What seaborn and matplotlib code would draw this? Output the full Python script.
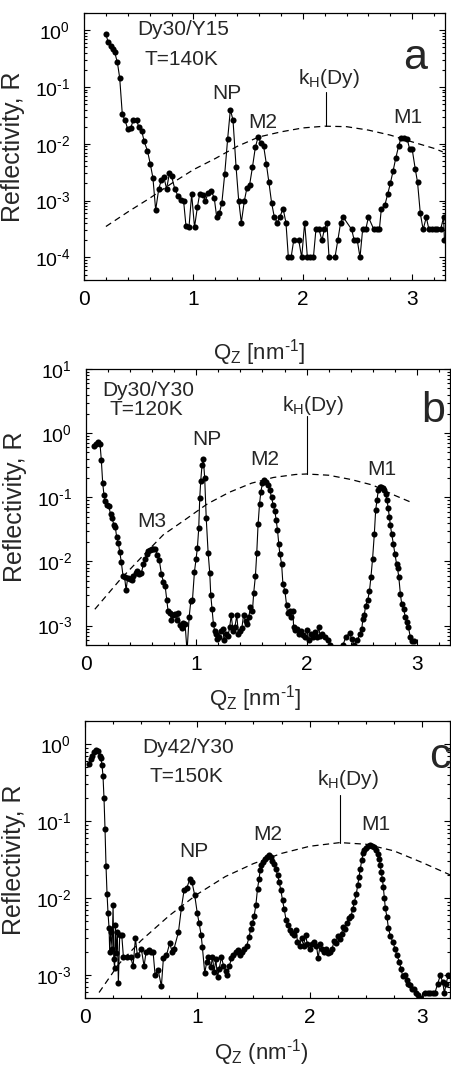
import numpy as np
import pandas as pd
import matplotlib
matplotlib.use("Agg")
import matplotlib.pyplot as plt
from matplotlib.ticker import MultipleLocator, LogLocator, NullFormatter, FuncFormatter
import seaborn as sns

# ---------------- data: panel a (Dy30/Y15, 140 K) ----------------
qa = [0.200, 0.220, 0.244, 0.262, 0.280, 0.305, 0.326, 0.350, 0.375, 0.400,
      0.427, 0.450, 0.480, 0.500, 0.527, 0.550, 0.580, 0.606, 0.630, 0.655,
      0.683, 0.707, 0.730, 0.755, 0.780, 0.800, 0.830, 0.860, 0.884, 0.910,
      0.932, 0.960, 0.984, 1.010, 1.036, 1.057, 1.085, 1.110, 1.136, 1.160,
      1.190, 1.213, 1.237, 1.260, 1.286, 1.313, 1.338, 1.362, 1.390, 1.414,
      1.438, 1.466, 1.490, 1.514, 1.540, 1.566, 1.590, 1.618, 1.642, 1.667,
      1.690, 1.715, 1.740, 1.767, 1.789, 1.820, 1.846, 1.868, 1.893, 1.917,
      1.963, 1.990, 2.017, 2.042, 2.066, 2.097, 2.120, 2.148, 2.175, 2.197,
      2.220, 2.240, 2.294, 2.320, 2.346, 2.370, 2.447, 2.470, 2.498, 2.523,
      2.547, 2.575, 2.600, 2.650, 2.675, 2.700, 2.718, 2.750, 2.776, 2.800,
      2.825, 2.850, 2.876, 2.897, 2.925, 2.955, 2.977, 3.000, 3.028, 3.049,
      3.074, 3.100, 3.129, 3.153, 3.180, 3.205, 3.230, 3.260, 3.287, 3.295]
ra = [0.85, 0.62, 0.52, 0.47, 0.41, 0.27, 0.145, 0.033, 0.026, 0.018,
      0.019, 0.026, 0.026, 0.020, 0.017, 0.011, 0.0075, 0.0044, 0.0025, 0.00068,
      0.0016, 0.0023, 0.0026, 0.0016, 0.0030, 0.0027, 0.0016, 0.0012, 0.00102, 0.0010,
      0.00036, 0.00035, 0.0013, 0.00034, 0.00076, 0.0013, 0.00125, 0.0010, 0.00137, 0.0015,
      0.00113, 0.00051, 0.0006, 0.00091, 0.0029, 0.0122, 0.040, 0.026, 0.0039, 0.0010,
      0.00041, 0.0010, 0.0017, 0.0019, 0.0039, 0.0086, 0.0129, 0.0105, 0.0091, 0.0044,
      0.0021, 0.00091, 0.00051, 0.00041, 0.00051, 0.00072, 0.00041, 0.0001, 0.0001, 0.0002,
      0.0002, 0.0001, 0.00041, 0.0001, 0.0001, 0.0001, 0.00031, 0.00031, 0.0002, 0.00031,
      0.00041, 0.0001, 0.0001, 0.0002, 0.00041, 0.00051, 0.00031, 0.0002, 0.0002, 0.0001,
      0.00031, 0.00031, 0.00051, 0.00031, 0.00031, 0.00031, 0.00072, 0.00083, 0.0013, 0.0020,
      0.0033, 0.0056, 0.0091, 0.0124, 0.0124, 0.0120, 0.0080, 0.0080, 0.0036, 0.0021,
      0.0006, 0.00031, 0.00051, 0.00031, 0.00031, 0.00031, 0.00031, 0.00031, 0.00051, 0.0002]
qka = [0.2, 0.4, 0.6, 0.8, 1.0, 1.2, 1.4, 1.6, 1.8, 2.0, 2.2, 2.4, 2.6, 2.8, 3.0, 3.2, 3.28]
rka = [3.5e-4, 6.3e-4, 1.1e-3, 2.0e-3, 3.5e-3, 5.5e-3, 9.0e-3, 1.32e-2, 1.62e-2,
       1.9e-2, 2.04e-2, 2.0e-2, 1.74e-2, 1.42e-2, 1.08e-2, 8.3e-3, 7.2e-3]

# ---------------- data: panel b (Dy30/Y30, 120 K) ----------------
qb = [0.073, 0.090, 0.109, 0.127, 0.139, 0.151, 0.163, 0.175, 0.194, 0.205,
      0.224, 0.236, 0.254, 0.266, 0.278, 0.293, 0.306, 0.320, 0.336, 0.350,
      0.363, 0.378, 0.396, 0.414, 0.430, 0.450, 0.466, 0.484, 0.502, 0.520,
      0.538, 0.550, 0.566, 0.580, 0.596, 0.610, 0.630, 0.647, 0.665, 0.684,
      0.702, 0.717, 0.732, 0.744, 0.760, 0.774, 0.790, 0.805, 0.823, 0.835,
      0.853, 0.868, 0.883, 0.898, 0.916, 0.935, 0.950, 0.965, 0.983, 0.998,
      1.010, 1.022, 1.031, 1.040, 1.052, 1.064, 1.076, 1.090, 1.107, 1.122,
      1.131, 1.143, 1.155, 1.167, 1.180, 1.192, 1.207, 1.222, 1.240, 1.252,
      1.270, 1.288, 1.303, 1.316, 1.334, 1.349, 1.367, 1.382, 1.397, 1.413,
      1.428, 1.446, 1.461, 1.476, 1.491, 1.509, 1.520, 1.536, 1.548, 1.560,
      1.573, 1.585, 1.600, 1.615, 1.633, 1.651, 1.666, 1.682, 1.697, 1.712,
      1.724, 1.736, 1.748, 1.757, 1.773, 1.785, 1.803, 1.818, 1.827, 1.845,
      1.857, 1.876, 1.882, 1.894, 1.912, 1.930, 1.948, 1.966, 1.984, 2.002,
      2.020, 2.039, 2.057, 2.075, 2.093, 2.108, 2.124, 2.142, 2.163, 2.190,
      2.214, 2.240, 2.270, 2.300, 2.330, 2.356, 2.390, 2.408, 2.430, 2.460,
      2.481, 2.500, 2.510, 2.522, 2.535, 2.554, 2.570, 2.583, 2.598, 2.614,
      2.626, 2.638, 2.650, 2.662, 2.674, 2.689, 2.704, 2.716, 2.729, 2.740,
      2.750, 2.759, 2.771, 2.786, 2.800, 2.815, 2.824, 2.836, 2.850, 2.862,
      2.880, 2.895, 2.910, 2.922, 2.940, 2.958, 2.970]
rb = [0.62, 0.68, 0.73, 0.68, 0.38, 0.17, 0.108, 0.087, 0.076, 0.073,
      0.054, 0.047, 0.037, 0.034, 0.024, 0.0196, 0.014, 0.0098, 0.0059, 0.0057,
      0.0036, 0.0056, 0.0054, 0.0051, 0.0059, 0.0066, 0.0071, 0.0063, 0.0066, 0.0091,
      0.011, 0.0132, 0.0146, 0.0153, 0.0159, 0.0159, 0.0159, 0.0125, 0.0104, 0.0063,
      0.0048, 0.0042, 0.0025, 0.0017, 0.00156, 0.00124, 0.00149, 0.00152, 0.00123, 0.0016,
      0.00104, 0.00091, 0.0011, 0.00107, 0.0004, 0.00135, 0.0024, 0.0025, 0.0069, 0.011,
      0.0165, 0.033, 0.096, 0.18, 0.32, 0.39, 0.20, 0.047, 0.0138, 0.0066,
      0.0030, 0.0018, 0.00107, 0.00082, 0.00074, 0.00062, 0.00067, 0.00083, 0.00089, 0.00059,
      0.00074, 0.00070, 0.00096, 0.00144, 0.00083, 0.00094, 0.00144, 0.00074, 0.00083, 0.00092,
      0.00144, 0.0012, 0.00107, 0.00138, 0.00195, 0.0017, 0.0032, 0.006, 0.0136, 0.038,
      0.078, 0.122, 0.165, 0.186, 0.175, 0.155, 0.13, 0.10, 0.076, 0.062,
      0.044, 0.031, 0.0185, 0.0132, 0.0093, 0.0045, 0.0035, 0.0021, 0.00156, 0.00167,
      0.00135, 0.00172, 0.00096, 0.00085, 0.00089, 0.00074, 0.00082, 0.00071, 0.00066, 0.00085,
      0.00059, 0.00074, 0.00067, 0.00079, 0.00066, 0.00094, 0.0007, 0.00074, 0.00066, 0.00059,
      0.0005, 0.0004, 0.00045, 0.0004, 0.0005, 0.00067, 0.00077, 0.00062, 0.0005, 0.00059,
      0.00074, 0.00089, 0.00126, 0.00144, 0.00205, 0.0025, 0.0035, 0.0057, 0.011, 0.027,
      0.063, 0.091, 0.13, 0.147, 0.147, 0.141, 0.13, 0.112, 0.091, 0.067,
      0.05, 0.037, 0.027, 0.019, 0.0132, 0.0093, 0.0078, 0.0057, 0.0031, 0.0022,
      0.0018, 0.00135, 0.00113, 0.00096, 0.00067, 0.00057, 0.00058]
qkb = [0.08, 0.3, 0.5, 0.7, 0.9, 1.1, 1.3, 1.5, 1.7, 1.9, 2.0, 2.2, 2.4, 2.6, 2.8, 2.96]
rkb = [1.8e-3, 5.0e-3, 0.0115, 0.026, 0.045, 0.079, 0.12, 0.166, 0.204, 0.227,
       0.231, 0.221, 0.19, 0.155, 0.107, 0.082]

# ---------------- data: panel c (Dy42/Y30, 150 K) ----------------
qc = [0.036, 0.050, 0.065, 0.080, 0.098, 0.116, 0.130, 0.140, 0.151, 0.160,
      0.169, 0.178, 0.187, 0.196, 0.205, 0.214, 0.220, 0.229, 0.241, 0.250,
      0.256, 0.264, 0.270, 0.279, 0.288, 0.297, 0.309, 0.327, 0.342, 0.377,
      0.407, 0.428, 0.449, 0.466, 0.502, 0.526, 0.544, 0.567, 0.585, 0.606,
      0.624, 0.651, 0.680, 0.698, 0.725, 0.755, 0.775, 0.793, 0.832, 0.858,
      0.882, 0.906, 0.933, 0.953, 0.977, 1.000, 1.016, 1.034, 1.045, 1.066,
      1.084, 1.099, 1.120, 1.135, 1.150, 1.165, 1.180, 1.194, 1.215, 1.233,
      1.254, 1.268, 1.286, 1.304, 1.322, 1.343, 1.363, 1.381, 1.402, 1.417,
      1.440, 1.461, 1.476, 1.491, 1.506, 1.521, 1.536, 1.550, 1.560, 1.571,
      1.586, 1.601, 1.619, 1.637, 1.655, 1.667, 1.684, 1.699, 1.714, 1.729,
      1.744, 1.759, 1.774, 1.791, 1.809, 1.827, 1.845, 1.863, 1.880, 1.892,
      1.910, 1.928, 1.946, 1.964, 1.980, 1.999, 2.017, 2.040, 2.061, 2.076,
      2.094, 2.112, 2.130, 2.148, 2.166, 2.184, 2.201, 2.219, 2.237, 2.249,
      2.267, 2.285, 2.297, 2.315, 2.332, 2.350, 2.370, 2.383, 2.398, 2.416,
      2.428, 2.440, 2.452, 2.464, 2.476, 2.488, 2.505, 2.523, 2.541, 2.559,
      2.576, 2.591, 2.606, 2.618, 2.630, 2.636, 2.648, 2.656, 2.665, 2.674,
      2.689, 2.701, 2.719, 2.740, 2.760, 2.777, 2.798, 2.813, 2.828, 2.849,
      2.864, 2.878, 2.896, 2.914, 2.932, 2.950, 2.967, 2.985, 3.000, 3.027,
      3.050, 3.075, 3.095, 3.116, 3.140, 3.164, 3.185, 3.200, 3.214, 3.235]
rc = [0.55, 0.64, 0.71, 0.79, 0.84, 0.82, 0.71, 0.66, 0.54, 0.39,
      0.20, 0.08, 0.026, 0.0114, 0.0063, 0.0041, 0.0020, 0.0036, 0.0022, 0.0080,
      0.0016, 0.00122, 0.0044, 0.0019, 0.0036, 0.00079, 0.0033, 0.0033, 0.0017, 0.0017,
      0.0017, 0.0013, 0.0030, 0.0018, 0.00214, 0.0013, 0.0020, 0.0021, 0.0020, 0.0020,
      0.0010, 0.00117, 0.00071, 0.00165, 0.0018, 0.0026, 0.0020, 0.0022, 0.0036, 0.0074,
      0.0126, 0.0135, 0.0175, 0.016, 0.0108, 0.0063, 0.0047, 0.0033, 0.0023, 0.00106,
      0.00147, 0.0017, 0.00125, 0.0017, 0.0011, 0.0016, 0.00093, 0.0012, 0.0017, 0.00132,
      0.00114, 0.0010, 0.00132, 0.00165, 0.0018, 0.0020, 0.0021, 0.0018, 0.0020, 0.00214,
      0.0024, 0.0031, 0.0040, 0.0047, 0.0059, 0.0080, 0.0132, 0.0178, 0.023, 0.027,
      0.0295, 0.0318, 0.034, 0.036, 0.034, 0.030, 0.028, 0.024, 0.020, 0.016,
      0.0126, 0.0093, 0.0071, 0.0051, 0.0045, 0.0038, 0.0035, 0.0033, 0.0038, 0.0027,
      0.0024, 0.0030, 0.0024, 0.0033, 0.0025, 0.0022, 0.0025, 0.0027, 0.0024, 0.00165,
      0.0025, 0.0022, 0.0020, 0.0022, 0.0019, 0.0020, 0.0022, 0.0028, 0.0026, 0.0032,
      0.0029, 0.0034, 0.0042, 0.0040, 0.0047, 0.0055, 0.0059, 0.0071, 0.0089, 0.0114,
      0.0147, 0.0187, 0.024, 0.031, 0.038, 0.042, 0.045, 0.048, 0.049, 0.048,
      0.046, 0.042, 0.037, 0.032, 0.027, 0.022, 0.0178, 0.0139, 0.010, 0.0074,
      0.0056, 0.0041, 0.0032, 0.0027, 0.0022, 0.0018, 0.00149, 0.0012, 0.00098, 0.0010,
      0.00085, 0.00076, 0.00074, 0.00065, 0.00066, 0.00059, 0.00055, 0.0005, 0.00045, 0.00059,
      0.00059, 0.00059, 0.00059, 0.00059, 0.00076, 0.0010, 0.0008, 0.00058, 0.00076, 0.0010]
qkc = [0.125, 0.3, 0.5, 0.75, 1.0, 1.25, 1.5, 1.75, 2.0, 2.27, 2.5, 2.75, 3.0, 3.25]
rkc = [5.9e-4, 1.38e-3, 2.8e-3, 5.9e-3, 0.0112, 0.019, 0.028, 0.038, 0.047, 0.0525,
       0.050, 0.041, 0.029, 0.020]

# ---------------- style ----------------
sns.set_style("ticks")
plt.rcParams["font.family"] = ["Liberation Sans", "DejaVu Sans"]
plt.rcParams["mathtext.fontset"] = "custom"
plt.rcParams["mathtext.rm"] = "Liberation Sans"
plt.rcParams["mathtext.it"] = "Liberation Sans"
plt.rcParams["axes.linewidth"] = 0.9
plt.rcParams["axes.edgecolor"] = "black"


def pow10_label(v, pos):
    e = int(round(np.log10(v)))
    if e < 0:
        return r"$\mathdefault{10^{\text{-%d}}}$" % (-e)
    return r"$\mathdefault{10^{%d}}$" % e


fig = plt.figure(figsize=(4.51, 10.68), dpi=100)

panels = [
    dict(q=qa, r=ra, qk=qka, rk=rka, rect=[0.1863, 0.7378, 0.8004, 0.2500],
         ylim=(4e-5, 2.0), xlim=(0, 3.3), xminor=0.2,
         xlabel=r"Q$_\mathregular{Z}$ [nm$^\text{-1}$]", xlab_y=-0.213, xlab_x=0.486,
         letter="a", letter_pos=(3.03, 10 ** -0.69),
         sample=["Dy30/Y15", "T=140K"], sample_pos=[(0.905, 10 ** -0.088), (0.89, 10 ** -0.616)],
         kh_text=(2.24, 10 ** -0.94), kh_line=(2.21, 10 ** -1.086, 10 ** -1.69),
         peaks=[("NP", 1.31, 10 ** -1.215), ("M2", 1.63, 10 ** -1.72), ("M1", 2.96, 10 ** -1.63)]),
    dict(q=qb, r=rb, qk=qkb, rk=rkb, rect=[0.1907, 0.3961, 0.8071, 0.2584],
         ylim=(5e-4, 10.0), xlim=(0, 3.3), xminor=0.2,
         xlabel=r"Q$_\mathregular{Z}$ [nm$^\text{-1}$]", xlab_y=-0.138, xlab_x=0.464,
         letter="b", letter_pos=(3.145, 10 ** 0.18),
         sample=["Dy30/Y30", "T=120K"], sample_pos=[(0.563, 10 ** 0.573), (0.55, 10 ** 0.286)],
         kh_text=(2.055, 10 ** 0.338), kh_line=(2.0, 10 ** 0.26, 10 ** -0.637),
         peaks=[("NP", 1.093, 10 ** -0.183), ("M2", 1.624, 10 ** -0.496),
                ("M1", 2.68, 10 ** -0.652), ("M3", 0.594, 10 ** -1.46)]),
    dict(q=qc, r=rc, qk=qkc, rk=rkc, rect=[0.1885, 0.0655, 0.8093, 0.2594],
         ylim=(5e-4, 2.0), xlim=(0, 3.25), xminor=0.25,
         xlabel=r"Q$_\mathregular{Z}$ (nm$^\text{-1}$)", xlab_y=-0.141, xlab_x=0.484,
         letter="c", letter_pos=(3.16, 10 ** -0.313),
         sample=["Dy42/Y30", "T=150K"], sample_pos=[(0.92, 10 ** -0.117), (0.90, 10 ** -0.487)],
         kh_text=(2.344, 10 ** -0.53), kh_line=(2.273, 10 ** -0.661, 10 ** -1.283),
         peaks=[("NP", 0.965, 10 ** -1.465), ("M2", 1.63, 10 ** -1.248), ("M1", 2.585, 10 ** -1.117)]),
]

for p in panels:
    ax = fig.add_axes(p["rect"])
    df = pd.DataFrame({"Q": p["q"], "R": p["r"]})
    dk = pd.DataFrame({"Q": p["qk"], "R": p["rk"]})
    sns.lineplot(data=dk, x="Q", y="R", ax=ax, color="black", lw=0.9,
                 linestyle=(0, (5, 3.5)), estimator=None, sort=False)
    sns.lineplot(data=df, x="Q", y="R", ax=ax, color="black", lw=0.8,
                 marker="o", markersize=4.4, markeredgewidth=0, markerfacecolor="black",
                 estimator=None, sort=False)
    ax.set_yscale("log")
    ax.set_xlim(*p["xlim"])
    ax.set_ylim(*p["ylim"])
    ax.xaxis.set_major_locator(MultipleLocator(1))
    ax.xaxis.set_minor_locator(MultipleLocator(p["xminor"]))
    ax.yaxis.set_major_locator(LogLocator(base=10, numticks=20))
    ax.yaxis.set_major_formatter(FuncFormatter(pow10_label))
    ax.yaxis.set_minor_locator(LogLocator(base=10, subs=np.arange(2, 10), numticks=40))
    ax.yaxis.set_minor_formatter(NullFormatter())
    ax.tick_params(which="both", direction="in", top=True, right=True, width=0.8, colors="black")
    ax.tick_params(which="major", length=4.5)
    ax.tick_params(which="minor", length=2.5)
    ax.tick_params(axis="x", which="major", labelsize=15, pad=7)
    ax.tick_params(axis="y", which="major", labelsize=14, pad=10)
    ax.set_xlabel(p["xlabel"], fontsize=16)
    ax.xaxis.set_label_coords(p["xlab_x"], p["xlab_y"])
    ax.set_ylabel("Reflectivity, R", fontsize=18)
    ax.yaxis.set_label_coords(-0.163, 0.5)
    for s in ax.spines.values():
        s.set_color("black")

    for txt, (x, y) in zip(p["sample"], p["sample_pos"]):
        ax.text(x, y, txt, fontsize=15, ha="center", va="baseline")
    ax.text(*p["letter_pos"], p["letter"], fontsize=31, ha="center", va="baseline")
    ax.text(*p["kh_text"], r"k$_\mathregular{H}$(Dy)", fontsize=15, ha="center", va="baseline")
    kx, ky1, ky2 = p["kh_line"]
    ax.plot([kx, kx], [ky1, ky2], color="black", lw=0.8)
    for txt, x, y in p["peaks"]:
        ax.text(x, y, txt, fontsize=15, ha="center", va="baseline")

fig.savefig("out.png", dpi=100)
